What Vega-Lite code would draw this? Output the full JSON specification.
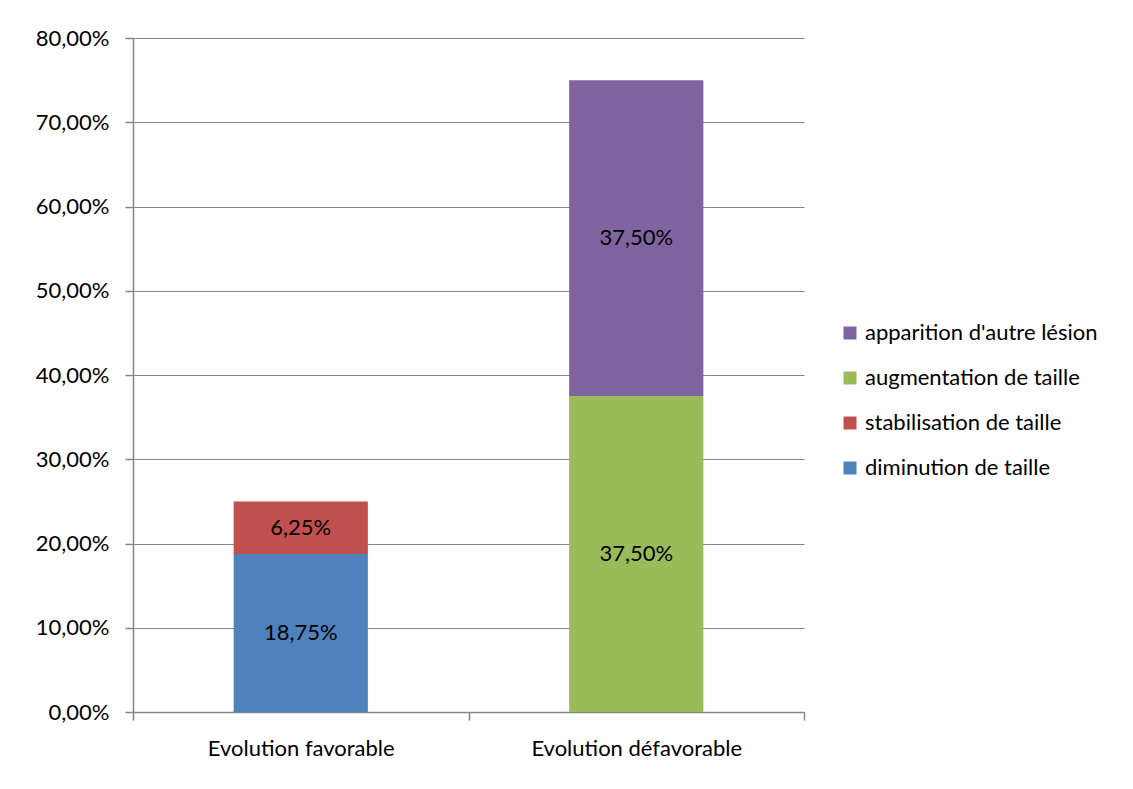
{
  "$schema": "https://vega.github.io/schema/vega-lite/v6.json",
  "width": 671,
  "height": 674,
  "autosize": {"type": "none"},
  "padding": {"left": 133, "top": 38, "right": 329, "bottom": 77},
  "background": "white",
  "data": {
    "values": [
      {"evolution": "Evolution favorable", "type": "diminution de taille", "rang": 1, "part": 0.1875},
      {"evolution": "Evolution favorable", "type": "stabilisation de taille", "rang": 2, "part": 0.0625},
      {"evolution": "Evolution défavorable", "type": "augmentation de taille", "rang": 3, "part": 0.375},
      {"evolution": "Evolution défavorable", "type": "apparition d'autre lésion", "rang": 4, "part": 0.375}
    ]
  },
  "transform": [
    {"stack": "part", "groupby": ["evolution"], "sort": [{"field": "rang"}], "as": ["bas", "haut"]},
    {"calculate": "(datum.bas + datum.haut) / 2", "as": "milieu"}
  ],
  "encoding": {
    "x": {
      "field": "evolution",
      "type": "nominal",
      "sort": ["Evolution favorable", "Evolution défavorable"],
      "scale": {"paddingInner": 0, "paddingOuter": 0},
      "axis": {
        "title": null,
        "labelAngle": 0,
        "labelLimit": 400,
        "tickBand": "extent",
        "tickSize": 8,
        "labelPadding": 18,
        "grid": false
      }
    }
  },
  "layer": [
    {
      "mark": {"type": "bar", "width": {"band": 0.4}},
      "encoding": {
        "y": {
          "field": "bas",
          "type": "quantitative",
          "scale": {"domain": [0, 0.8], "nice": false},
          "axis": {
            "title": null,
            "format": ".2%",
            "values": [0, 0.1, 0.2, 0.3, 0.4, 0.5, 0.6, 0.7, 0.8],
            "tickSize": 8,
            "labelPadding": 16,
            "grid": true
          }
        },
        "y2": {"field": "haut"},
        "color": {
          "field": "type",
          "type": "nominal",
          "scale": {
            "domain": ["apparition d'autre lésion", "augmentation de taille", "stabilisation de taille", "diminution de taille"],
            "range": ["#8064A2", "#9BBB59", "#C0504D", "#4F81BD"]
          },
          "legend": {
            "title": null,
            "orient": "none",
            "legendX": 706,
            "legendY": 284,
            "symbolType": "square",
            "symbolSize": 169,
            "symbolStrokeWidth": 0,
            "labelFontSize": 22,
            "labelOffset": 4,
            "labelLimit": 400,
            "rowPadding": 23
          }
        }
      }
    },
    {
      "mark": {"type": "text", "fontSize": 22, "color": "black", "baseline": "middle"},
      "encoding": {
        "y": {"field": "milieu", "type": "quantitative"},
        "text": {"field": "part", "type": "quantitative", "format": ".2%"}
      }
    }
  ],
  "config": {
    "locale": {
      "number": {"decimal": ",", "thousands": " ", "grouping": [3], "currency": ["", " €"]}
    },
    "font": "Lato",
    "view": {"stroke": null},
    "axis": {
      "labelFont": "Lato",
      "labelFontSize": 22,
      "labelColor": "black",
      "domainColor": "#868686",
      "tickColor": "#868686",
      "gridColor": "#868686",
      "domainWidth": 1.5,
      "tickWidth": 1.5,
      "gridWidth": 1
    },
    "legend": {"labelFont": "Lato", "labelColor": "black"}
  }
}
